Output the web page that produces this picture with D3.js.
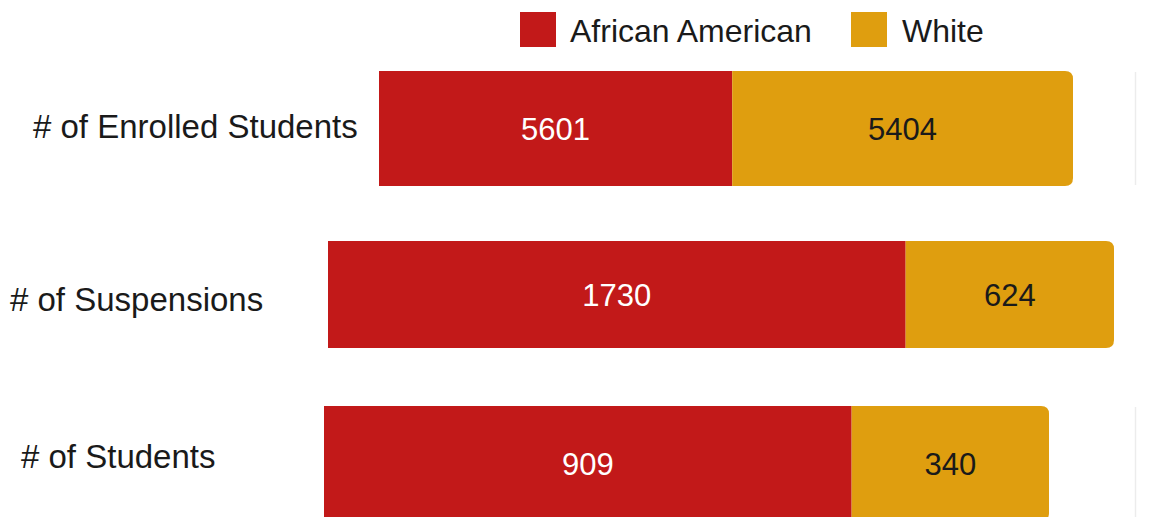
<!DOCTYPE html>
<html>
<head>
<meta charset="utf-8">
<script src="https://cdn.jsdelivr.net/npm/d3@7/dist/d3.min.js"></script>
<style>
  html, body { margin: 0; padding: 0; background: #ffffff; }
  svg { display: block; }
  text { font-family: "Liberation Sans", Arial, sans-serif; }
</style>
</head>
<body>
<div id="chart"></div>
<script>
// ---- data ----
const categories = ["# of Enrolled Students", "# of Suspensions", "# of Students"];
const seriesNames = ["African American", "White"];
const africanAmerican = [5601, 1730, 909];
const white = [5404, 624, 340];

// ---- style / layout (not data) ----
const colors = ["#c21919", "#df9e0f"];
const labelColors = ["#ffffff", "#1a1a1a"];
const W = 1150, H = 517;
const rowLayout = [
  { x0: 379, x1: 1073, y: 71,  h: 115, labelX: 33, labelY: 138, guide: true },
  { x0: 328, x1: 1114, y: 241, h: 107, labelX: 10, labelY: 311, guide: false },
  { x0: 324, x1: 1049, y: 406, h: 115, labelX: 21, labelY: 468, guide: true }
];
const radius = 8;

const svg = d3.select("#chart").append("svg")
  .attr("width", W).attr("height", H);

const rows = categories.map((c, i) => ({
  category: c,
  values: [africanAmerican[i], white[i]],
  layout: rowLayout[i]
}));

// path with square left corners and rounded right corners
function rightRounded(x, y, w, h, r) {
  r = Math.min(r, w / 2, h / 2);
  return `M${x},${y}H${x + w - r}Q${x + w},${y} ${x + w},${y + r}` +
         `V${y + h - r}Q${x + w},${y + h} ${x + w - r},${y + h}H${x}Z`;
}

// faint guide lines at right
svg.selectAll("line.guide").data(rows.filter(r => r.layout.guide))
  .join("line")
  .attr("class", "guide")
  .attr("x1", 1135.5).attr("x2", 1135.5)
  .attr("y1", d => d.layout.y + 1)
  .attr("y2", d => d.layout.y + d.layout.h - 1)
  .attr("stroke", "#ececec").attr("stroke-width", 1.5);

rows.forEach(row => {
  const L = row.layout;
  const total = d3.sum(row.values);
  const x = d3.scaleLinear().domain([0, total]).range([L.x0, L.x1]);
  const stack = [];
  let acc = 0;
  row.values.forEach((v, j) => { stack.push({ start: acc, end: acc + v, value: v, j }); acc += v; });

  const g = svg.append("g");
  g.selectAll("path.seg").data(stack).join("path")
    .attr("class", "seg")
    .attr("fill", d => colors[d.j])
    .attr("d", d => {
      const xs = x(d.start), xe = x(d.end);
      if (d.j === stack.length - 1) return rightRounded(xs, L.y, xe - xs, L.h, radius);
      return `M${xs},${L.y}H${xe}V${L.y + L.h}H${xs}Z`;
    });

  g.selectAll("text.val").data(stack).join("text")
    .attr("class", "val")
    .attr("x", d => (x(d.start) + x(d.end)) / 2)
    .attr("y", L.y + L.h / 2 + 11.5)
    .attr("text-anchor", "middle")
    .attr("font-size", 31)
    .attr("fill", d => labelColors[d.j])
    .text(d => d.value);

  svg.append("text")
    .attr("x", L.labelX)
    .attr("y", L.labelY)
    .attr("font-size", 33)
    .attr("fill", "#1a1a1a")
    .text(row.category);
});

// legend
const legendItems = [
  { name: seriesNames[0], color: colors[0], sx: 520, tx: 570 },
  { name: seriesNames[1], color: colors[1], sx: 851, tx: 902 }
];
const lg = svg.append("g");
lg.selectAll("rect").data(legendItems).join("rect")
  .attr("x", d => d.sx).attr("y", 12)
  .attr("width", 36).attr("height", 35)
  .attr("fill", d => d.color);
lg.selectAll("text").data(legendItems).join("text")
  .attr("x", d => d.tx).attr("y", 42)
  .attr("font-size", 32)
  .attr("fill", "#1a1a1a")
  .text(d => d.name);
</script>
</body>
</html>
